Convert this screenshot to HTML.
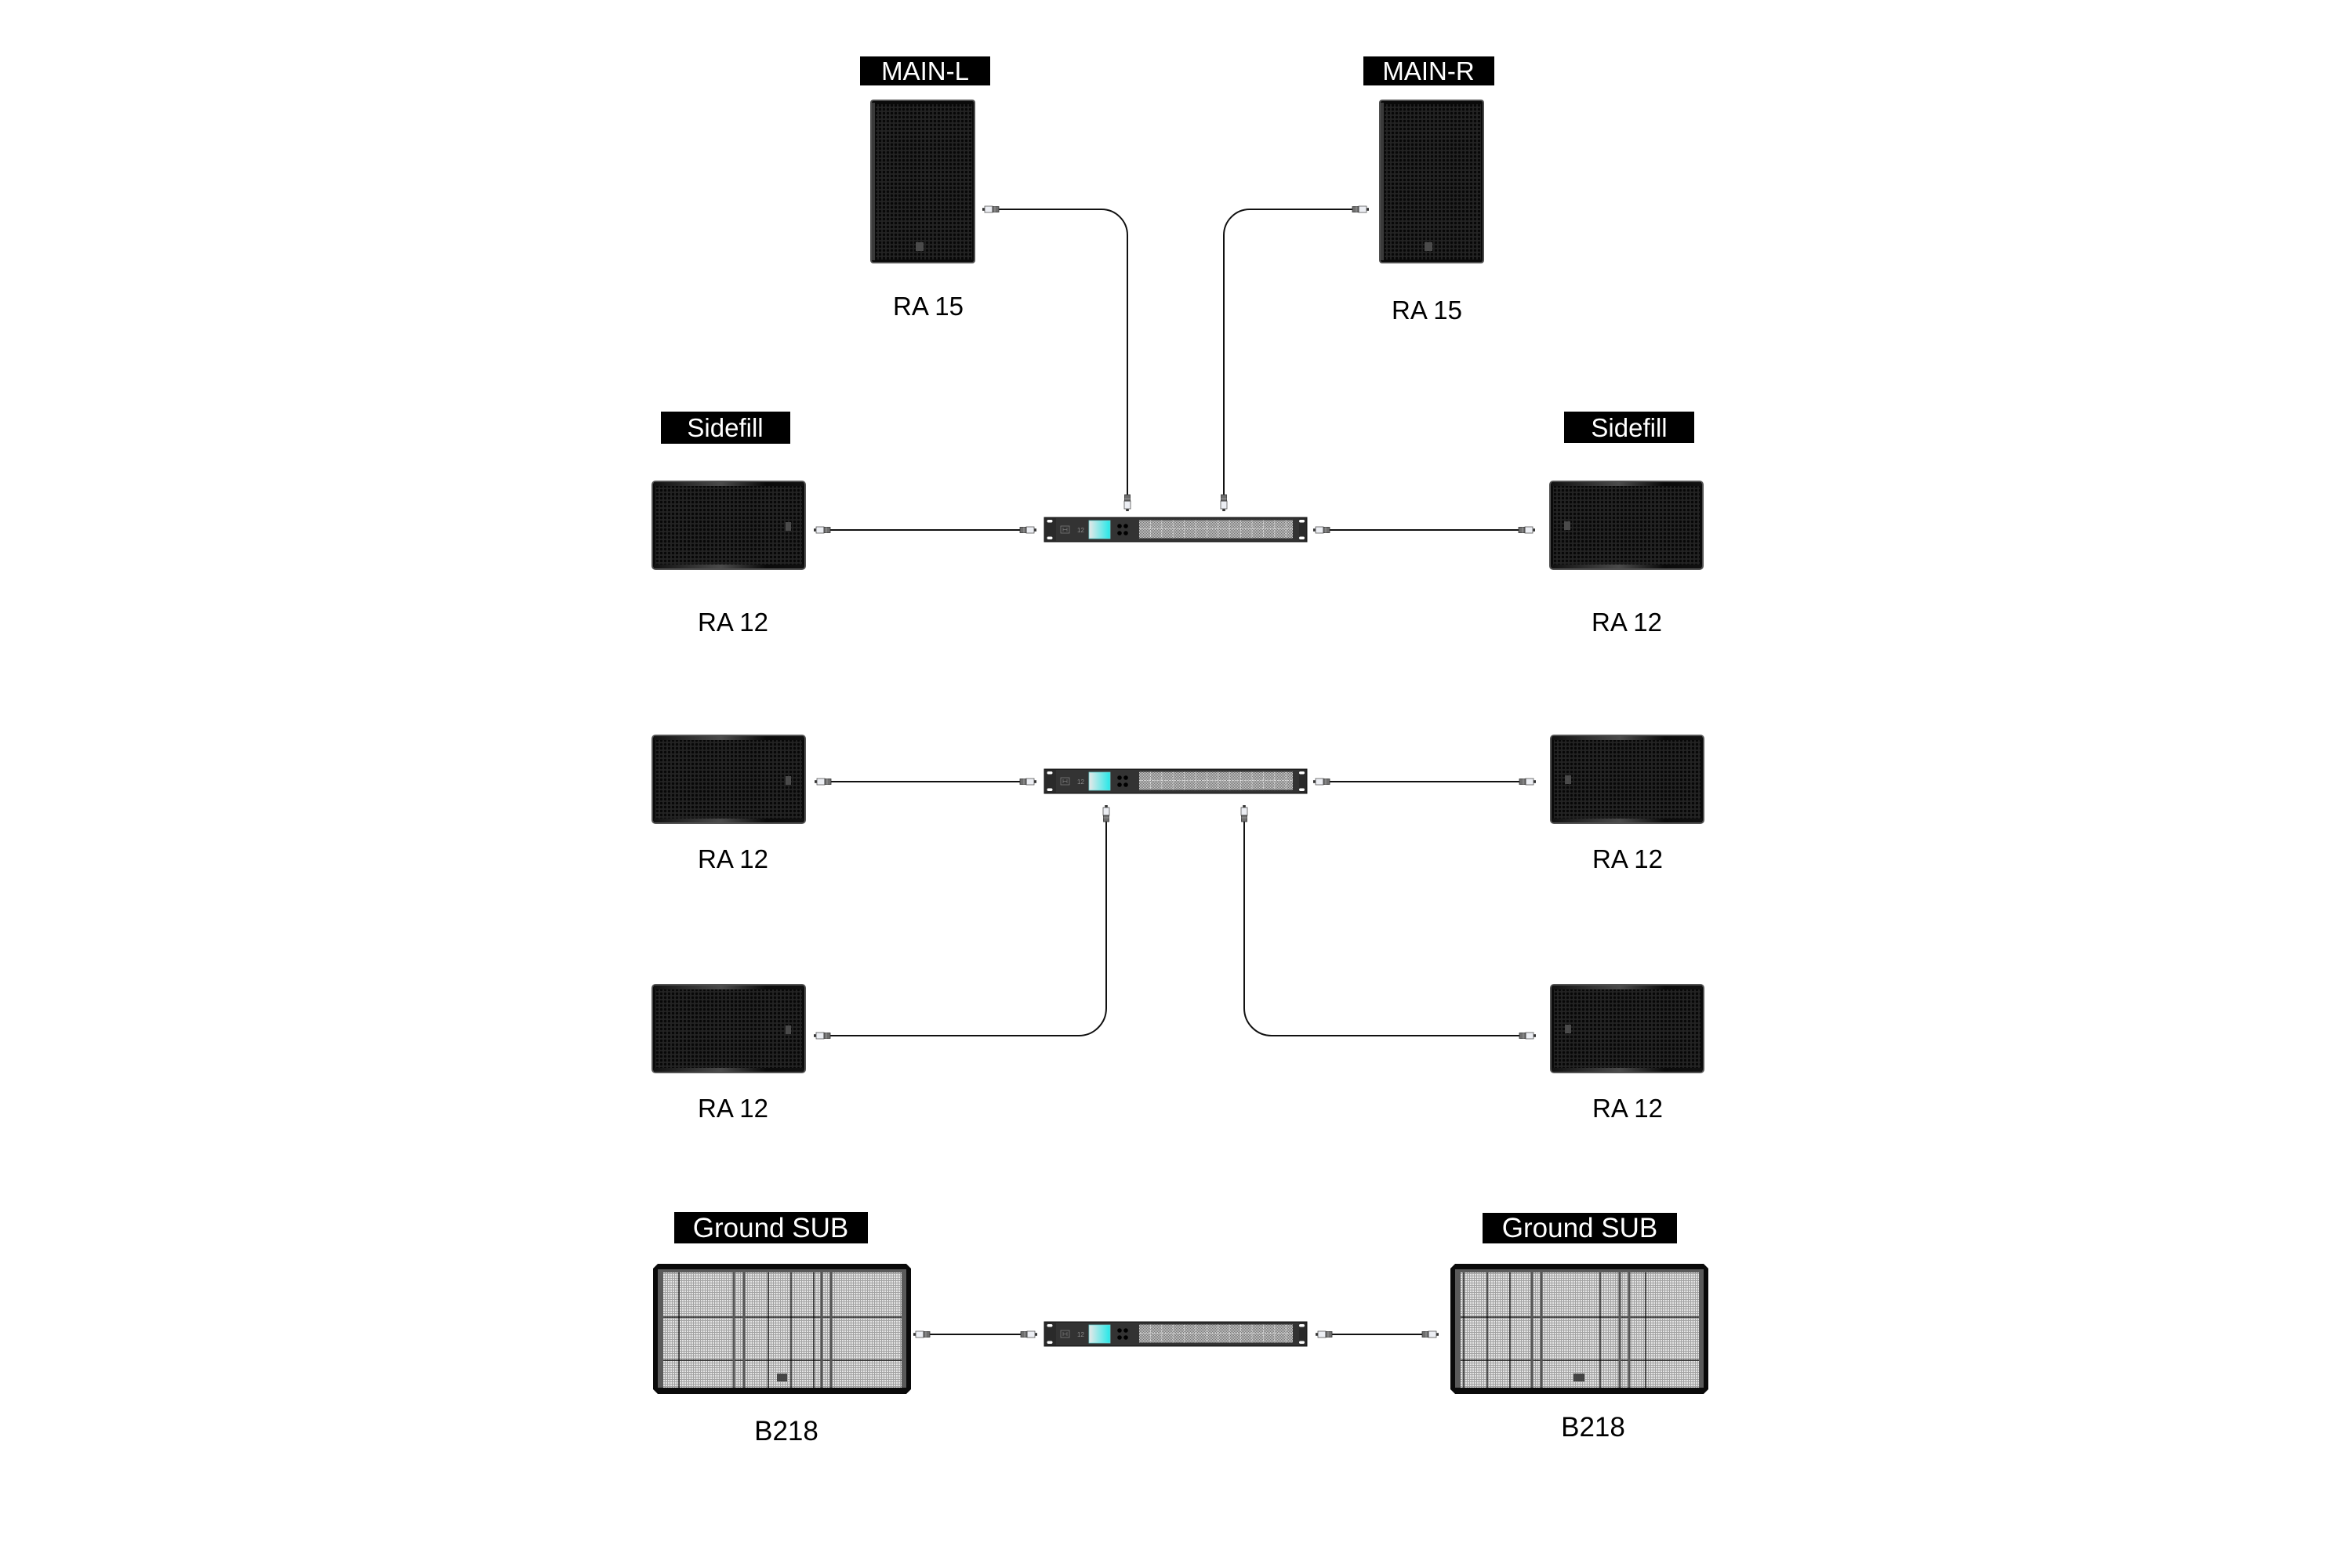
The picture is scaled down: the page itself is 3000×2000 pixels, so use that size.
<!DOCTYPE html>
<html>
<head>
<meta charset="utf-8">
<style>
  html,body{margin:0;padding:0;background:#fff;}
  svg{display:block;}
  text{font-family:"Liberation Sans", "Noto Sans CJK SC", sans-serif;}
</style>
</head>
<body>
<svg width="3000" height="2000" viewBox="0 0 3000 2000" xmlns="http://www.w3.org/2000/svg">
  <defs>
    <pattern id="holes" width="5" height="5" patternUnits="userSpaceOnUse">
      <rect width="5" height="5" fill="#232323"/>
      <circle cx="2.5" cy="2.5" r="1.7" fill="#070707"/>
    </pattern>
    <pattern id="mesh" width="3" height="3" patternUnits="userSpaceOnUse">
      <rect width="3" height="3" fill="#e4e4e4"/>
      <path d="M0 0.5H3M0.5 0V3" stroke="#a2a2a2" stroke-width="1"/>
    </pattern>
    <pattern id="pmesh" width="2" height="2" patternUnits="userSpaceOnUse">
      <rect width="2" height="2" fill="#cfcfcf"/>
      <rect width="1" height="1" fill="#707070"/>
      <rect x="1" y="1" width="1" height="1" fill="#707070"/>
    </pattern>
    <linearGradient id="shineH" x1="0" y1="0" x2="1" y2="0">
      <stop offset="0" stop-color="#111"/>
      <stop offset="0.45" stop-color="#4a4a4a"/>
      <stop offset="0.75" stop-color="#0a0a0a"/>
      <stop offset="1" stop-color="#111"/>
    </linearGradient>
    <linearGradient id="scr" x1="0" y1="0" x2="1" y2="0">
      <stop offset="0" stop-color="#e8e8e8"/>
      <stop offset="1" stop-color="#25e8e8"/>
    </linearGradient>

    <g id="plugL">
      <rect x="0" y="-1.8" width="3" height="3.6" fill="#333"/>
      <rect x="3" y="-4" width="10" height="8" fill="#eceef3" stroke="#555" stroke-width="0.8"/>
      <rect x="13" y="-3.5" width="8" height="7" fill="#6e6e6e" stroke="#333" stroke-width="0.8"/>
      <line x1="16" y1="-3.5" x2="16" y2="3.5" stroke="#bbb" stroke-width="0.6"/>
    </g>

    <g id="ra12">
      <rect x="0" y="0" width="197" height="114" rx="5" fill="#525252"/>
      <rect x="2" y="2" width="193" height="110" rx="3" fill="#0a0a0a"/>
      <rect x="5" y="7" width="187" height="100" fill="url(#holes)"/>
      <rect x="3" y="2" width="191" height="5" fill="url(#shineH)"/>
      <rect x="3" y="107" width="191" height="5" fill="url(#shineH)"/>
    </g>

    <g id="ra15">
      <rect x="0" y="0" width="134" height="209" rx="4" fill="#4e4e4e"/>
      <rect x="2" y="2" width="130" height="205" rx="2" fill="#0a0a0a"/>
      <rect x="2" y="4" width="4" height="201" fill="#3a3a3a"/>
      <rect x="7" y="6" width="123" height="198" fill="url(#holes)"/>
      <rect x="58" y="182" width="10" height="11" fill="#4a4a4a"/>
    </g>

    <g id="proc">
      <rect x="0" y="0" width="335" height="31" fill="#2a2a2a" stroke="#141414" stroke-width="1"/>
      <rect x="15" y="1" width="310" height="29" fill="#333"/>
      <rect x="3.5" y="3" width="7" height="3.5" rx="1.7" fill="#fff"/>
      <rect x="3.5" y="24.5" width="7" height="3.5" rx="1.7" fill="#fff"/>
      <rect x="325" y="3" width="7" height="3.5" rx="1.7" fill="#fff"/>
      <rect x="325" y="24.5" width="7" height="3.5" rx="1.7" fill="#fff"/>
      <rect x="21" y="11" width="11" height="9" fill="none" stroke="#7a7a7a" stroke-width="0.8"/>
      <path d="M24 13v5M29 13v5M24 15.5h5" stroke="#7a7a7a" stroke-width="0.7"/>
      <text x="42" y="19" font-size="8" fill="#8a8a8a">12</text>
      <rect x="57" y="4" width="27" height="23" fill="url(#scr)" stroke="#6fd6d6" stroke-width="0.8"/>
      <circle cx="96" cy="11" r="2.8" fill="#000"/>
      <circle cx="104" cy="11" r="2.8" fill="#000"/>
      <circle cx="96" cy="20" r="2.8" fill="#000"/>
      <circle cx="104" cy="20" r="2.8" fill="#000"/>
      <rect x="121" y="3.5" width="196" height="23" fill="url(#pmesh)"/>
      <path d="M135.4 3.5V26.5M149.8 3.5V26.5M164.2 3.5V26.5M178.6 3.5V26.5M193 3.5V26.5M207.4 3.5V26.5M221.8 3.5V26.5M236.2 3.5V26.5M250.6 3.5V26.5M265 3.5V26.5M279.4 3.5V26.5M293.8 3.5V26.5M308.2 3.5V26.5M121 14.5H317"
            stroke="#e8e8e8" stroke-width="0.8" stroke-dasharray="2 1.2" fill="none"/>
    </g>

    <g id="b218frame">
      <path d="M6 0H323L329 6V160L323 166H6L0 160V6Z" fill="#0a0a0a"/>
      <rect x="6" y="7" width="317" height="151" fill="#5a5a5a"/>
      <rect x="13" y="11" width="304" height="147" fill="url(#mesh)"/>
    </g>
  </defs>

  <rect width="3000" height="2000" fill="#fff"/>

  <!-- Labels -->
  <rect x="1097" y="72" width="166" height="37" fill="#000"/>
  <text x="1180" y="102" font-size="33" fill="#fff" text-anchor="middle">MAIN-L</text>
  <rect x="1739" y="72" width="167" height="37" fill="#000"/>
  <text x="1822" y="102" font-size="33" fill="#fff" text-anchor="middle">MAIN-R</text>

  <rect x="843" y="525" width="165" height="41" fill="#000"/>
  <text x="925" y="557" font-size="33" fill="#fff" text-anchor="middle">Sidefill</text>
  <rect x="1995" y="525" width="166" height="40" fill="#000"/>
  <text x="2078" y="557" font-size="33" fill="#fff" text-anchor="middle">Sidefill</text>

  <rect x="860" y="1546" width="247" height="40" fill="#000"/>
  <text x="983" y="1578" font-size="35" fill="#fff" text-anchor="middle">Ground SUB</text>
  <rect x="1891" y="1547" width="248" height="39" fill="#000"/>
  <text x="2015" y="1578" font-size="35" fill="#fff" text-anchor="middle">Ground SUB</text>

  <!-- RA15 mains -->
  <use href="#ra15" x="1110" y="127"/>
  <use href="#ra15" x="1759" y="127"/>
  <text x="1184" y="402" font-size="33" fill="#000" text-anchor="middle">RA 15</text>
  <text x="1820" y="407" font-size="33" fill="#000" text-anchor="middle">RA 15</text>

  <!-- Row 2 -->
  <use href="#ra12" x="831" y="613"/>
  <rect x="1002" y="666" width="7" height="11" fill="#4a4a4a"/>
  <use href="#ra12" x="1976" y="613"/>
  <rect x="1995" y="665" width="8" height="11" fill="#4a4a4a"/>
  <text x="935" y="805" font-size="33" fill="#000" text-anchor="middle">RA 12</text>
  <text x="2075" y="805" font-size="33" fill="#000" text-anchor="middle">RA 12</text>

  <!-- Row 3 -->
  <use href="#ra12" x="831" y="937"/>
  <rect x="1002" y="990" width="7" height="11" fill="#4a4a4a"/>
  <use href="#ra12" x="1977" y="937"/>
  <rect x="1996" y="989" width="8" height="11" fill="#4a4a4a"/>
  <text x="935" y="1107" font-size="33" fill="#000" text-anchor="middle">RA 12</text>
  <text x="2076" y="1107" font-size="33" fill="#000" text-anchor="middle">RA 12</text>

  <!-- Row 4 -->
  <use href="#ra12" x="831" y="1255"/>
  <rect x="1002" y="1308" width="7" height="11" fill="#4a4a4a"/>
  <use href="#ra12" x="1977" y="1255"/>
  <rect x="1996" y="1307" width="8" height="11" fill="#4a4a4a"/>
  <text x="935" y="1425" font-size="33" fill="#000" text-anchor="middle">RA 12</text>
  <text x="2076" y="1425" font-size="33" fill="#000" text-anchor="middle">RA 12</text>

  <!-- B218 subs -->
  <g transform="translate(833,1612)">
    <use href="#b218frame"/>
    <g stroke="#000" stroke-width="1.2" fill="none">
      <path d="M33 11V158M147 11V158M176 11V158M205 11V158M13 68H317M13 123H317"/>
    </g>
    <g stroke="#555" stroke-width="3" fill="none">
      <path d="M103 11V158M116 11V158M215 11V158M227 11V158"/>
    </g>
    <rect x="158" y="140" width="13" height="10" fill="#444"/>
  </g>
  <g transform="translate(1850,1612)">
    <use href="#b218frame"/>
    <g stroke="#000" stroke-width="1.2" fill="none">
      <path d="M17 11V158M47 11V158M76 11V158M191 11V158M249 11V158M13 68H317M13 123H317"/>
    </g>
    <g stroke="#555" stroke-width="3" fill="none">
      <path d="M104 11V158M116 11V158M216 11V158M228 11V158"/>
    </g>
    <rect x="157" y="140" width="14" height="10" fill="#444"/>
  </g>
  <text x="1003" y="1837" font-size="35" fill="#000" text-anchor="middle">B218</text>
  <text x="2032" y="1832" font-size="35" fill="#000" text-anchor="middle">B218</text>

  <!-- Processors -->
  <use href="#proc" x="1332" y="660"/>
  <use href="#proc" x="1332" y="981"/>
  <use href="#proc" x="1332" y="1686"/>

  <!-- Cables -->
  <g stroke="#111" stroke-width="2" fill="none">
    <path d="M1273 267H1405A33 33 0 0 1 1438 300V631"/>
    <path d="M1725 267H1594A33 33 0 0 0 1561 300V631"/>
    <path d="M1059 676H1302"/>
    <path d="M1696 676H1937"/>
    <path d="M1060 997H1301"/>
    <path d="M1696 997H1938"/>
    <path d="M1059 1321H1376A35 35 0 0 0 1411 1286V1048"/>
    <path d="M1587 1048V1286A35 35 0 0 0 1622 1321H1938"/>
    <path d="M1186 1702H1302"/>
    <path d="M1699 1702H1814"/>
  </g>

  <!-- Plugs -->
  <use href="#plugL" transform="translate(1253,267)"/>
  <use href="#plugL" transform="translate(1746,267) scale(-1,1)"/>
  <use href="#plugL" transform="translate(1438,652) rotate(-90)"/>
  <use href="#plugL" transform="translate(1561,652) rotate(-90)"/>

  <use href="#plugL" transform="translate(1038,676)"/>
  <use href="#plugL" transform="translate(1322,676) scale(-1,1)"/>
  <use href="#plugL" transform="translate(1675,676)"/>
  <use href="#plugL" transform="translate(1958,676) scale(-1,1)"/>

  <use href="#plugL" transform="translate(1039,997)"/>
  <use href="#plugL" transform="translate(1322,997) scale(-1,1)"/>
  <use href="#plugL" transform="translate(1675,997)"/>
  <use href="#plugL" transform="translate(1959,997) scale(-1,1)"/>

  <use href="#plugL" transform="translate(1411,1027) rotate(90)"/>
  <use href="#plugL" transform="translate(1587,1027) rotate(90)"/>
  <use href="#plugL" transform="translate(1038,1321)"/>
  <use href="#plugL" transform="translate(1959,1321) scale(-1,1)"/>

  <use href="#plugL" transform="translate(1165,1702)"/>
  <use href="#plugL" transform="translate(1323,1702) scale(-1,1)"/>
  <use href="#plugL" transform="translate(1678,1702)"/>
  <use href="#plugL" transform="translate(1835,1702) scale(-1,1)"/>
</svg>
</body>
</html>
